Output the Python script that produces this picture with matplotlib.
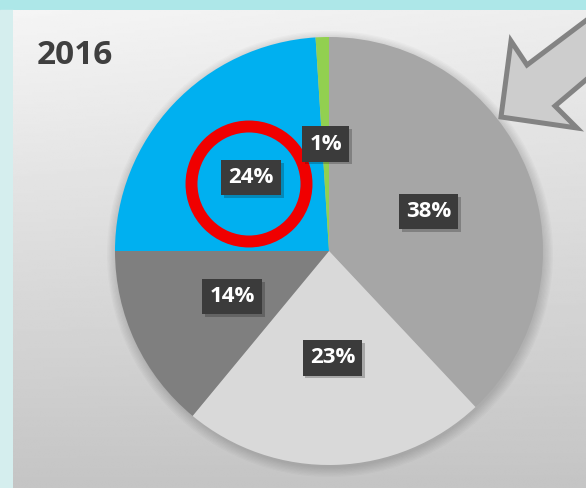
import numpy as np
import matplotlib
matplotlib.use("Agg")
import matplotlib.pyplot as plt
from matplotlib.patches import Circle, Polygon, Rectangle
import matplotlib.patheffects as pe

# data
title = "2016"
shares = [38, 23, 14, 24, 1]
colors = ["#a6a6a6", "#d9d9d9", "#7f7f7f", "#00b0f0", "#92d050"]

W, H = 586, 488


def fy(y):
    # image row -> data y
    return H - y


fig = plt.figure(figsize=(W / 100, H / 100), dpi=100)
ax = fig.add_axes([0, 0, 1, 1])

# background: teal strip + gradient panel
ax.add_patch(Rectangle((0, 0), W, H, color="#ade7e8", zorder=0))
ax.add_patch(Rectangle((0, 0), 13, fy(10), color="#d5eeee", zorder=0))
gx, gy = np.meshgrid(np.linspace(0, 1, 200), np.linspace(0, 1, 200))
shade = 0.96 - 0.19 * gy - 0.03 * gx * (1 - gy)
ax.imshow(shade, cmap="gray", vmin=0, vmax=1, extent=(13, W, 0, fy(10)),
          origin="upper", zorder=1, aspect="auto", interpolation="bilinear")

cx, cy, r = 329, fy(251), 214

# soft shadow behind pie
for i in range(8):
    ax.add_patch(Circle((cx + 1, cy - 3), r + 9 - i * 1.3, color="black",
                        alpha=0.018, lw=0, zorder=2))

wedges, texts, autotexts = ax.pie(
    shares, colors=colors, startangle=90, counterclock=False,
    center=(cx, cy), radius=r, autopct=lambda p: "%d%%" % round(p),
    pctdistance=0.5, wedgeprops={"linewidth": 0, "zorder": 3},
    textprops={"color": "white", "fontsize": 16, "fontweight": "bold",
               "family": "Open Sans"})
for w in wedges:
    w.set_zorder(3)
for t in autotexts:
    t.set_zorder(6)
    t.set_bbox(dict(boxstyle="square,pad=0.32", fc="#3b3b3b", ec="none"))
    t.get_bbox_patch().set_path_effects(
        [pe.SimplePatchShadow(offset=(2, -2), alpha=0.25), pe.Normal()])

# red highlight ring
ax.add_patch(Circle((249, fy(184)), 57.5, fill=False, ec="#f00000",
                    lw=8.6, zorder=5))

# arrow
arrow = [(501, 117), (511, 41), (527, 65), (600, 10), (600, 68),
         (555, 106), (577, 128)]
ax.add_patch(Polygon([(x, fy(y)) for x, y in arrow], closed=True,
                     fc="#cdcdcd", ec="#838383", lw=3.6, joinstyle="miter",
                     zorder=4))

ax.text(37, fy(56), title, fontsize=24, fontweight="bold", color="#3f3f3f",
        family="Open Sans", va="center", ha="left", zorder=6)

ax.set_xlim(0, W)
ax.set_ylim(0, H)
ax.set_aspect("auto")
ax.axis("off")

fig.savefig("out.png", dpi=100)
